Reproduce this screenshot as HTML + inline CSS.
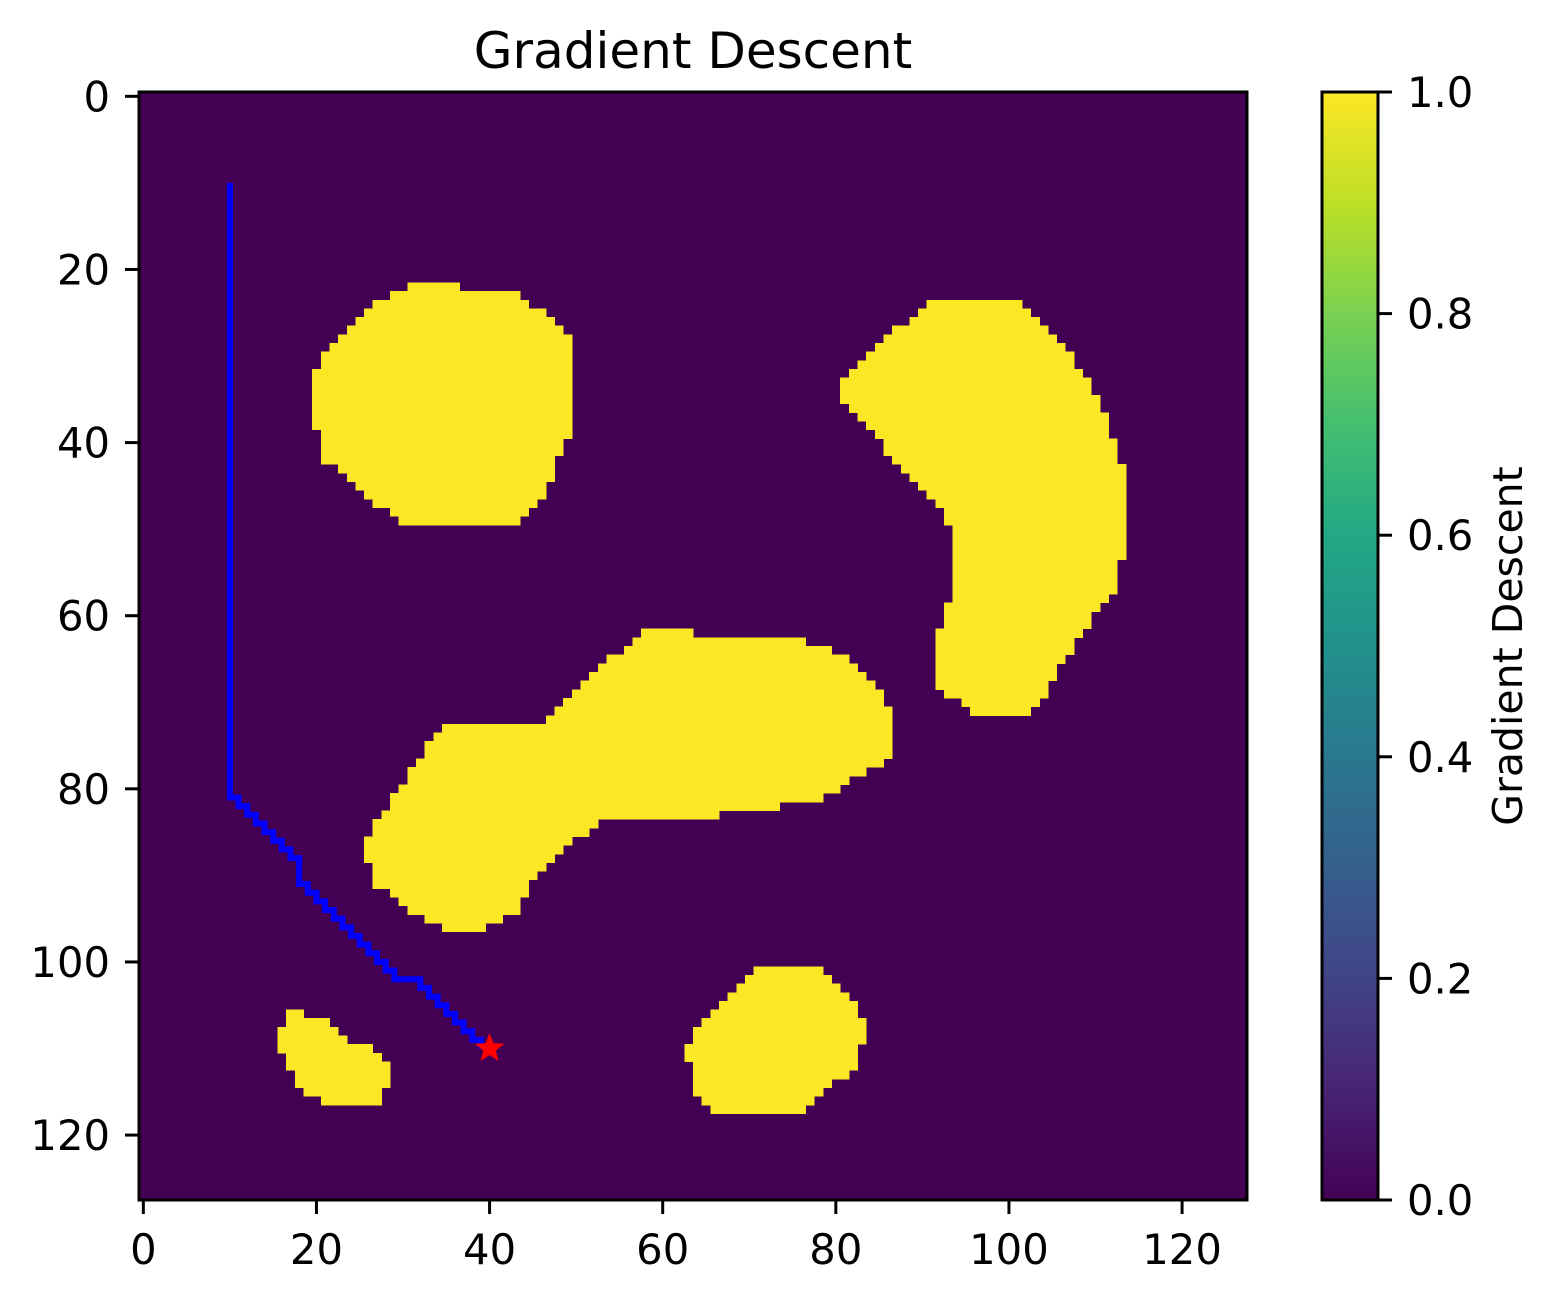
<!DOCTYPE html>
<html><head><meta charset="utf-8"><style>
body{margin:0;background:#fff;}
svg{display:block;font-family:"DejaVu Sans","Liberation Sans",sans-serif;}
</style></head><body>
<svg id="chart" width="1561" height="1302" viewBox="0 0 1561 1302">
<defs>
<linearGradient id="viridis" x1="0" y1="1" x2="0" y2="0">
<stop offset="0" stop-color="#440154"/><stop offset="0.1" stop-color="#482475"/><stop offset="0.2" stop-color="#414487"/>
<stop offset="0.3" stop-color="#355f8d"/><stop offset="0.4" stop-color="#2a788e"/><stop offset="0.5" stop-color="#21918c"/>
<stop offset="0.6" stop-color="#22a884"/><stop offset="0.7" stop-color="#44bf70"/><stop offset="0.8" stop-color="#7ad151"/>
<stop offset="0.9" stop-color="#bddf26"/><stop offset="1" stop-color="#fde725"/>
</linearGradient>
<clipPath id="axclip"><rect x="139" y="92" width="1108" height="1108"/></clipPath>
</defs>
<text x="693" y="68" font-size="50" text-anchor="middle">Gradient Descent</text>
<rect x="139" y="92" width="1108" height="1108" fill="#440154"/>
<g id="blobs" clip-path="url(#axclip)" shape-rendering="crispEdges"></g>
<g id="path"></g>
<rect x="139" y="92" width="1108" height="1108" fill="none" stroke="#000" stroke-width="3"/>
<g id="xticks"></g><g id="yticks"></g>
<rect x="1322" y="92" width="56" height="1108" fill="url(#viridis)" stroke="#000" stroke-width="3"/>
<g id="cticks"></g>
<text transform="translate(1522,646) rotate(-90)" font-size="41" text-anchor="middle">Gradient Descent</text>
</svg>
<script>
const gridSize = 128;
const xTickVals = [0,20,40,60,80,100,120];
const yTickVals = [0,20,40,60,80,100,120];
const cbTickVals = [0.0,0.2,0.4,0.6,0.8,1.0];
const blob1 = [[31.3,22.1],[34.8,22.1],[44.0,23.5],[48.6,26.9],[50.0,29.2],[50.0,39.0],[48.6,41.9],[46.3,47.7],[42.9,49.9],[30.2,49.9],[25.0,45.4],[21.5,42.5],[20.1,37.9],[20.1,33.3],[21.5,30.0],[27.3,24.6]];
const blob2 = [[92.0,24.0],[101.2,24.0],[106.4,28.7],[111.0,35.6],[113.1,41.4],[114.1,46.0],[114.1,48.9],[113.1,57.5],[111.0,59.8],[107.6,64.5],[104.1,70.2],[102.9,72.0],[97.2,72.0],[92.2,69.1],[92.2,62.7],[94.3,57.5],[94.3,51.8],[92.5,48.3],[87.9,43.7],[84.5,39.0],[81.2,35.6],[81.2,33.8],[85.6,28.7]];
const blob3 = [[58.5,62.2],[76.4,63.1],[82.1,65.4],[85.0,68.5],[87.1,72.3],[87.1,76.8],[83.3,78.9],[78.7,81.6],[71.2,83.0],[63.7,83.9],[54.4,83.9],[49.2,87.3],[46.3,89.9],[43.4,94.7],[40.0,96.8],[35.9,96.8],[30.2,93.9],[26.9,91.0],[26.1,87.3],[27.3,84.1],[30.2,80.6],[33.6,74.9],[35.4,73.1],[46.9,72.9],[53.3,66.2]];
const blob4 = [[18.0,106.1],[21.5,107.2],[24.4,109.8],[27.6,110.7],[28.8,112.4],[28.8,115.1],[27.3,117.0],[22.1,117.0],[18.0,114.7],[16.3,110.1],[16.6,107.2]];
const blob5 = [[71.2,101.1],[78.7,101.1],[81.9,104.3],[83.9,107.2],[83.1,113.0],[81.0,114.1],[78.1,116.4],[76.4,117.8],[66.2,117.8],[64.2,115.9],[63.2,110.1],[66.0,106.1]];
const pathCols = [10,10,17,18,18,29,31,32,39];
const pathRows = [10,81,88,88,91,102,102,103,110];
const goalCol = 40, goalRow = 110;

const NS="http://www.w3.org/2000/svg";
const X0=139,Y0=92,S=1108/gridSize;
const px=c=>X0+(c+0.5)*S, py=r=>Y0+(r+0.5)*S;
const cbY=v=>1200-v*1108;
function mk(t,a,p){const e=document.createElementNS(NS,t);for(const k in a)e.setAttribute(k,a[k]);p.appendChild(e);return e;}
function inside(poly,x,y){let c=false;for(let i=0,j=poly.length-1;i<poly.length;j=i++){const a=poly[i],b=poly[j];
  if((a[1]>y)!==(b[1]>y)&&x<(b[0]-a[0])*(y-a[1])/(b[1]-a[1])+a[0])c=!c;}return c;}
const bg=document.getElementById('blobs');
[blob1,blob2,blob3,blob4,blob5].forEach((b,i)=>{
  const g=mk('g',{fill:'#fde725'},bg);
  
  
  for(let r=0;r<gridSize;r++){let start=-1;
    for(let c=0;c<=gridSize;c++){const on=c<gridSize&&inside(b,c+0.5,r+0.5);
      if(on&&start<0)start=c;
      if(!on&&start>=0){mk('rect',{x:X0+start*S,y:Y0+r*S,width:(c-start)*S+0.5,height:S+0.5},g);start=-1;}}}
});
const pg=document.getElementById('path');
let cells=[[pathCols[0],pathRows[0]]];
for(let i=1;i<pathCols.length;i++){
  let c=pathCols[i-1],r=pathRows[i-1];const tc=pathCols[i],tr=pathRows[i];
  while(c!==tc||r!==tr){
    if(c!==tc){c+=Math.sign(tc-c);cells.push([c,r]);}
    if(r!==tr){r+=Math.sign(tr-r);cells.push([c,r]);}
  }
}
const pl=mk('polyline',{points:cells.map(p=>px(p[0])+','+py(p[1])).join(' '),fill:'none',stroke:'#0000ff','stroke-width':6,'stroke-linejoin':'miter'},pg);


const cx=px(goalCol),cy=py(goalRow);let sp=[];
for(let k=0;k<10;k++){const r=k%2?6:14,a=-Math.PI/2+k*Math.PI/5;sp.push((cx+r*Math.cos(a))+','+(cy+r*Math.sin(a)));}
const st=mk('polygon',{points:sp.join(' '),fill:'#ff0000',stroke:'#ff0000','stroke-width':1},pg);


const xg=document.getElementById('xticks');
xTickVals.forEach(v=>{const x=px(v);
  mk('line',{x1:x,y1:1200,x2:x,y2:1214,stroke:'#000','stroke-width':3},xg);
  const t=mk('text',{x:x,y:1264,'font-size':41.7,'text-anchor':'middle'},xg);t.textContent=v;
  
  });
const yg=document.getElementById('yticks');
yTickVals.forEach(v=>{const y=py(v);
  mk('line',{x1:125,y1:y,x2:139,y2:y,stroke:'#000','stroke-width':3},yg);
  const t=mk('text',{x:110,y:y+15,'font-size':41.7,'text-anchor':'end'},yg);t.textContent=v;
  
  });
const cg=document.getElementById('cticks');
cbTickVals.forEach(v=>{const y=cbY(v);
  mk('line',{x1:1378,y1:y,x2:1392,y2:y,stroke:'#000','stroke-width':3},cg);
  const t=mk('text',{x:1407,y:y+15,'font-size':41.7},cg);t.textContent=v.toFixed(1);
  
  });
</script>
</body></html>
